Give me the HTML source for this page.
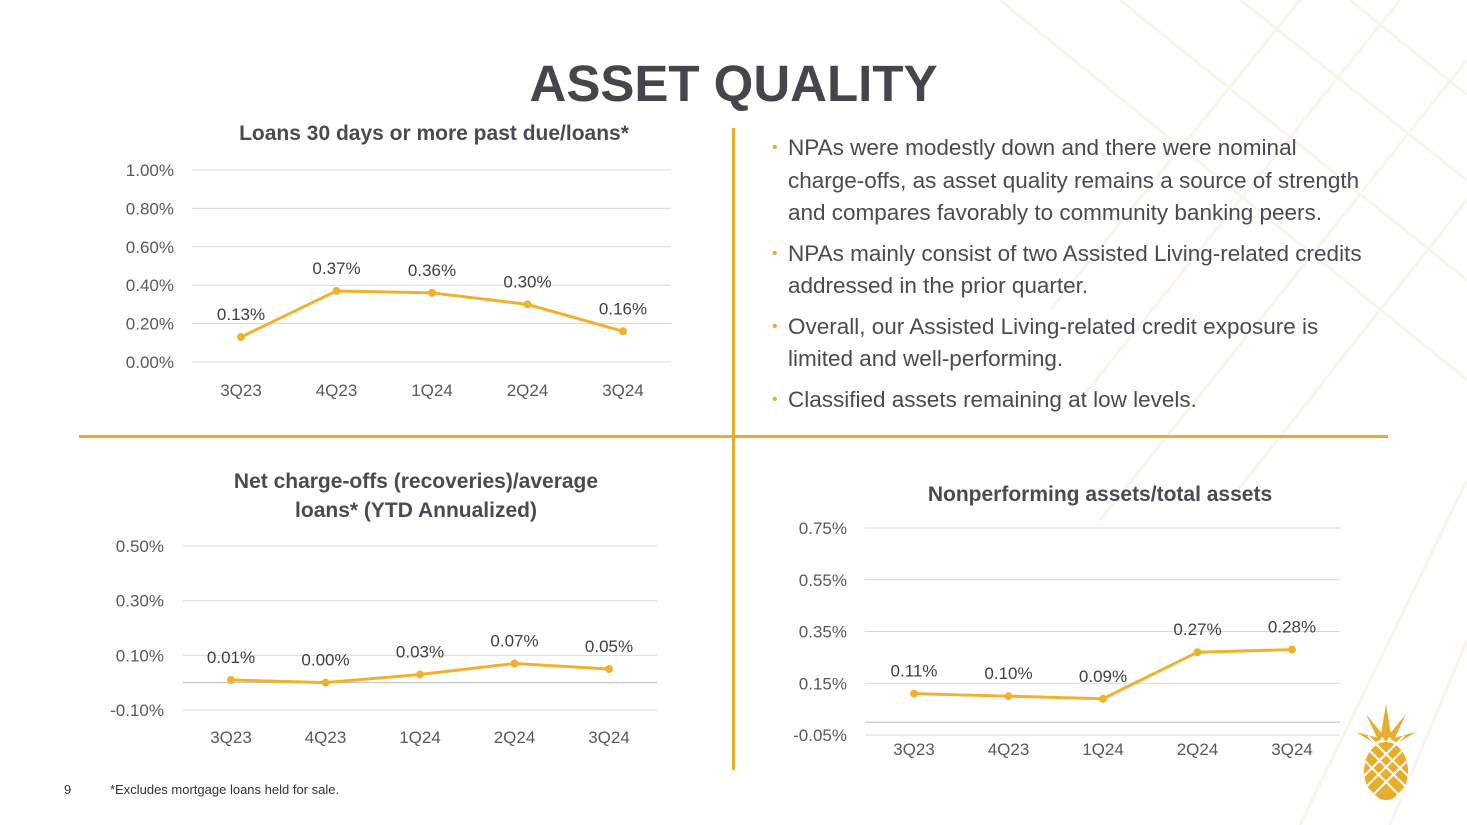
<!DOCTYPE html>
<html><head><meta charset="utf-8"><style>
body{margin:0;width:1467px;height:825px;overflow:hidden;background:#fff;font-family:"Liberation Sans","DejaVu Sans",sans-serif;position:relative}
.t{position:absolute;white-space:nowrap}
.title{left:0;width:1467px;text-align:center;top:54px;font-size:51px;font-weight:bold;color:#45454d}
.bul{position:absolute;left:772px;font-size:22.5px;color:#4a4a52;line-height:32.5px;white-space:nowrap}
.bul span{color:#e8ad2c;position:absolute;left:0;font-size:16px}
.bul>div>div{padding-left:16px}
</style></head><body>
<svg style="position:absolute;left:0;top:0" width="1467" height="825">
<g stroke="#f6ede0" stroke-width="3" opacity="0.6">
<line x1="1000" y1="0" x2="1467" y2="380"/><line x1="1120" y1="0" x2="1467" y2="280"/><line x1="1240" y1="0" x2="1467" y2="180"/><line x1="1350" y1="0" x2="1467" y2="95"/>
<line x1="1467" y1="60" x2="1100" y2="520"/><line x1="1467" y1="200" x2="1230" y2="500"/><line x1="1400" y1="0" x2="1080" y2="400"/><line x1="1300" y1="0" x2="1050" y2="310"/>
<line x1="1467" y1="480" x2="1300" y2="825"/><line x1="1467" y1="640" x2="1390" y2="825"/>
</g></svg>
<div class="t title">ASSET QUALITY</div>
<div style="position:absolute;left:732px;top:128px;width:3px;height:642px;background:#e8ad2c"></div>
<div style="position:absolute;left:79px;top:435px;width:1309px;height:3px;background:#e8ad2c"></div>
<div class="bul" style="top:132px">
<div style="position:relative;margin-bottom:8px"><span>•</span><div>NPAs were modestly down and there were nominal<br>charge-offs, as asset quality remains a source of strength<br>and compares favorably to community banking peers.</div></div>
<div style="position:relative;margin-bottom:8px"><span>•</span><div>NPAs mainly consist of two Assisted Living-related credits<br>addressed in the prior quarter.</div></div>
<div style="position:relative;margin-bottom:8px"><span>•</span><div>Overall, our Assisted Living-related credit exposure is<br>limited and well-performing.</div></div>
<div style="position:relative"><span>•</span><div>Classified assets remaining at low levels.</div></div>
</div>
<div class="t" style="left:64px;top:782px;font-size:13px;color:#333">9</div>
<div class="t" style="left:110px;top:782px;font-size:13px;color:#333">*Excludes mortgage loans held for sale.</div>
<svg style="position:absolute;left:1356px;top:704px" width="60" height="100" viewBox="0 0 60 100">
<g fill="#e8ad2c"><path d="M30 0 L35 30 L30 38 L25 30Z"/><path d="M10 10 L28 32 L22 36Z"/><path d="M50 10 L32 32 L38 36Z"/><path d="M0 28 L26 35 L18 39Z"/><path d="M60 28 L34 35 L42 39Z"/>
<ellipse cx="30" cy="67" rx="22" ry="29"/></g>
<g stroke="#fff" stroke-width="2"><line x1="2" y1="50" x2="52" y2="100"/><line x1="2" y1="35" x2="62" y2="95"/><line x1="12" y1="32" x2="62" y2="82"/><line x1="-8" y1="65" x2="42" y2="115"/>
<line x1="58" y1="50" x2="8" y2="100"/><line x1="58" y1="35" x2="-2" y2="95"/><line x1="48" y1="32" x2="-2" y2="82"/><line x1="68" y1="65" x2="18" y2="115"/></g></svg>
<svg id="charts" style="position:absolute;left:0;top:0" width="1467" height="825"></svg>
<script>
const cats=["3Q23","4Q23","1Q24","2Q24","3Q24"];
const c1Vals=[0.13,0.37,0.36,0.30,0.16];
const c1Ticks=[0,0.2,0.4,0.6,0.8,1.0];
const c2Vals=[0.01,0.00,0.03,0.07,0.05];
const c2Ticks=[-0.1,0.1,0.3,0.5];
const c3Vals=[0.11,0.10,0.09,0.27,0.28];
const c3Ticks=[-0.05,0.15,0.35,0.55,0.75];
const NS="http://www.w3.org/2000/svg",svg=document.getElementById('charts');
function mk(t,a,p){const e=document.createElementNS(NS,t);for(const k in a)e.setAttribute(k,a[k]);(p||svg).appendChild(e);return e;}
function chart(name,title,titleY,titleX,vals,ticks,x0,x1,yAt,labX,catY,firstX,step,zeroLine){
 const g=mk('g',{});
 const y=v=>yAt[0]+(v-ticks[0])*(yAt[1]-yAt[0])/(ticks[ticks.length-1]-ticks[0]);
 title.forEach((l,i)=>{const t=mk('text',{x:titleX,y:titleY+i*29,'text-anchor':'middle','font-size':21,'font-weight':'bold',fill:'#4a4a52'},g);t.textContent=l;});
 ticks.forEach(v=>{const l=mk('line',{x1:x0,x2:x1,y1:y(v),y2:y(v),stroke:'#d9d9d9','stroke-width':1},g);
  const t=mk('text',{x:labX,y:y(v)+6,'text-anchor':'end','font-size':17,fill:'#595959'},g);t.textContent=v.toFixed(2)+'%';});
 if(zeroLine){const l=mk('line',{x1:x0,x2:x1,y1:y(0),y2:y(0),stroke:'#bfbfbf'},g);}
 const xs=cats.map((c,i)=>firstX+i*step);
 cats.forEach((c,i)=>{const t=mk('text',{x:xs[i],y:catY,'text-anchor':'middle','font-size':17,fill:'#595959'},g);t.textContent=c;});
 const p=mk('polyline',{points:vals.map((v,i)=>xs[i]+','+y(v)).join(' '),fill:'none',stroke:'#eeb22f','stroke-width':3},g);
 vals.forEach((v,i)=>{const c=mk('circle',{cx:xs[i],cy:y(v),r:4,fill:'#eeb22f'},g);
  const t=mk('text',{x:xs[i],y:y(v)-17,'text-anchor':'middle','font-size':17,fill:'#404040'},g);t.textContent=v.toFixed(2)+'%';});
}
chart('chart-loans-past-due',['Loans 30 days or more past due/loans*'],140,434,c1Vals,c1Ticks,192,671,[362,170],174,396,241,95.5,false);
chart('chart-net-charge-offs',['Net charge-offs (recoveries)/average','loans* (YTD Annualized)'],488,416,c2Vals,c2Ticks,183,657,[710,546],164,743,231,94.5,true);
chart('chart-nonperforming-assets',['Nonperforming assets/total assets'],501,1100,c3Vals,c3Ticks,865,1340,[735,528],847,755,914,94.5,true);
</script>
</body></html>
